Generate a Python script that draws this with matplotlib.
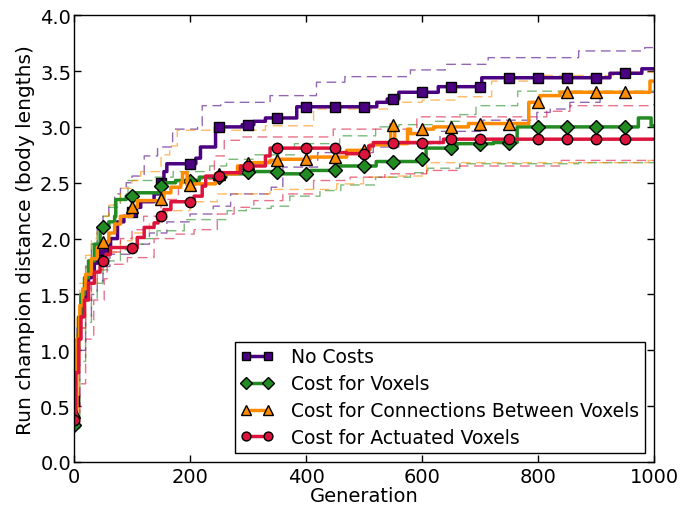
import matplotlib
matplotlib.use('Agg')
import matplotlib.pyplot as plt
import numpy as np

plt.rcParams['font.family'] = ['DejaVu Sans']
plt.rcParams['xtick.direction'] = 'in'
plt.rcParams['ytick.direction'] = 'in'

labels = ['No Costs', 'Cost for Voxels', 'Cost for Connections Between Voxels',
          'Cost for Actuated Voxels']
colors = ['#4B0082', '#228B22', '#FF8C00', '#DC143C']
markers = ['s', 'D', '^', 'o']

# mean champion distance, step breakpoints (generation, value)
no_cost_gen = [0, 3, 6, 10, 15, 20, 25, 30, 35, 40, 45, 55, 63, 75, 86, 100, 104, 115, 138, 149, 155,
               160, 210, 218, 244, 290, 310, 330, 384, 522, 540, 560, 628, 703, 924, 979]
no_cost_val = [0.55, 0.9, 1.1, 1.3, 1.45, 1.55, 1.65, 1.72, 1.78, 1.83, 1.90, 1.93, 2.0, 2.15, 2.2, 2.24, 2.28,
               2.33, 2.40, 2.50, 2.60, 2.67, 2.72, 2.82, 3.0, 3.02, 3.05, 3.08, 3.18, 3.22, 3.25, 3.31, 3.36,
               3.44, 3.48, 3.52]

voxel_gen = [0, 3, 8, 12, 18, 25, 35, 45, 60, 70, 72, 90, 103, 147, 155, 175, 216, 262, 300, 360, 407,
             453, 521, 592, 607, 660, 723, 764, 973, 995]
voxel_val = [0.33, 1.0, 1.3, 1.5, 1.65, 1.8, 1.95, 2.10, 2.15, 2.2, 2.35, 2.38, 2.41, 2.47, 2.50, 2.52,
             2.55, 2.58, 2.60, 2.58, 2.61, 2.65, 2.69, 2.71, 2.81, 2.85, 2.86, 3.0, 3.08, 3.01]

conn_gen = [0, 5, 10, 15, 20, 30, 40, 50, 60, 70, 80, 100, 109, 150, 155, 167, 184, 187, 195, 207, 244,
            282, 300, 338, 355, 407, 470, 501, 511, 546, 553, 575, 580, 598, 620, 680, 784, 803, 838, 993]
conn_val = [0.45, 1.1, 1.4, 1.55, 1.68, 1.82, 1.92, 1.97, 2.05, 2.13, 2.2, 2.28, 2.34, 2.35, 2.41, 2.46,
            2.5, 2.59, 2.48, 2.49, 2.58, 2.65, 2.68, 2.70, 2.71, 2.73, 2.79, 2.80, 2.84, 3.02, 2.85, 2.98,
            2.94, 2.98, 3.0, 3.03, 3.22, 3.28, 3.31, 3.41]

act_gen = [0, 3, 8, 12, 18, 25, 35, 45, 55, 63, 109, 121, 138, 145, 155, 167, 207, 221, 227, 253, 287,
           330, 338, 453, 470, 508, 516, 637]
act_val = [0.38, 0.8, 1.1, 1.3, 1.45, 1.6, 1.7, 1.80, 1.86, 1.92, 2.01, 2.10, 2.14, 2.20, 2.26, 2.33,
           2.38, 2.47, 2.56, 2.59, 2.65, 2.74, 2.81, 2.77, 2.76, 2.83, 2.86, 2.89]

# dashed bands (upper / lower)
no_cost_up_gen = [0, 5, 10, 20, 30, 40, 50, 60, 70, 80, 90, 100, 121, 144, 170, 213, 221, 253, 338, 418,
                  467, 580, 640, 714, 870, 984]
no_cost_up_val = [0.6, 1.2, 1.5, 1.75, 1.95, 2.1, 2.2, 2.3, 2.4, 2.45, 2.5, 2.56, 2.74, 2.82, 2.98, 3.01,
                  3.19, 3.22, 3.28, 3.40, 3.45, 3.51, 3.56, 3.62, 3.68, 3.71]
no_cost_lo_gen = [0, 10, 20, 30, 40, 50, 62, 102, 130, 160, 200, 240, 270, 340, 360, 420, 516, 560, 631,
                  705, 798, 821, 855, 907]
no_cost_lo_val = [0.5, 1.0, 1.3, 1.5, 1.62, 1.75, 1.86, 1.95, 2.05, 2.15, 2.22, 2.29, 2.40, 2.46, 2.64,
                  2.77, 2.82, 2.85, 2.96, 3.06, 3.13, 3.16, 3.22, 3.31]

voxel_up_gen = [0, 5, 10, 20, 30, 40, 50, 60, 80, 93, 140, 171, 234, 263, 310, 380, 458, 520, 560, 620,
                665, 693, 765]
voxel_up_val = [0.4, 1.2, 1.5, 1.75, 1.95, 2.1, 2.2, 2.28, 2.4, 2.52, 2.55, 2.6, 2.65, 2.71, 2.75, 2.85,
                2.92, 3.0, 3.02, 3.05, 3.11, 3.19, 3.32]
voxel_lo_gen = [0, 10, 20, 30, 40, 50, 60, 80, 100, 120, 143, 190, 264, 297, 340, 372, 424, 460, 520, 580,
                610, 665, 870]
voxel_lo_val = [0.3, 0.9, 1.25, 1.45, 1.6, 1.72, 1.8, 1.9, 1.95, 2.0, 2.07, 2.17, 2.25, 2.27, 2.29, 2.38,
                2.43, 2.48, 2.55, 2.59, 2.63, 2.67, 2.68]

conn_up_gen = [0, 5, 10, 20, 30, 40, 50, 60, 80, 100, 115, 150, 165, 178, 330, 413, 545, 600, 660, 720,
               797, 935]
conn_up_val = [0.55, 1.3, 1.6, 1.85, 2.0, 2.1, 2.2, 2.3, 2.45, 2.52, 2.6, 2.75, 2.83, 2.97, 3.01, 3.16,
               3.22, 3.24, 3.27, 3.41, 3.46, 3.49]
conn_lo_gen = [0, 5, 10, 20, 30, 40, 50, 60, 80, 100, 130, 160, 200, 247, 338, 453, 499, 556, 608, 990]
conn_lo_val = [0.4, 0.9, 1.2, 1.45, 1.6, 1.72, 1.8, 1.88, 1.98, 2.05, 2.15, 2.25, 2.33, 2.40, 2.44, 2.49,
               2.55, 2.56, 2.68, 2.70]

act_up_gen = [0, 5, 10, 20, 30, 40, 50, 60, 80, 100, 120, 150, 180, 210, 242, 259, 287, 447, 591, 815,
              855, 990]
act_up_val = [0.45, 0.9, 1.2, 1.45, 1.6, 1.72, 1.8, 1.88, 2.0, 2.08, 2.2, 2.35, 2.45, 2.53, 2.74, 2.88,
              2.91, 2.98, 3.09, 3.14, 3.19, 3.20]
act_lo_gen = [0, 10, 20, 34, 52, 57, 92, 138, 172, 207, 247, 276, 310, 360, 413, 476, 536, 608, 665, 840]
act_lo_val = [0.35, 0.7, 1.1, 1.45, 1.64, 1.77, 1.83, 2.0, 2.04, 2.08, 2.22, 2.28, 2.34, 2.40, 2.52, 2.55,
              2.58, 2.61, 2.65, 2.70]

means = [(no_cost_gen, no_cost_val), (voxel_gen, voxel_val), (conn_gen, conn_val), (act_gen, act_val)]
uppers = [(no_cost_up_gen, no_cost_up_val), (voxel_up_gen, voxel_up_val),
          (conn_up_gen, conn_up_val), (act_up_gen, act_up_val)]
lowers = [(no_cost_lo_gen, no_cost_lo_val), (voxel_lo_gen, voxel_lo_val),
          (conn_lo_gen, conn_lo_val), (act_lo_gen, act_lo_val)]

gens = np.arange(0, 1001)


def expand(g, v):
    idx = np.searchsorted(g, gens, side='right') - 1
    return np.asarray(v)[idx]


fig = plt.figure(figsize=(6.81, 5.06), dpi=100)
ax = fig.add_axes([0.1087, 0.085, 0.8517, 0.883])

for i in range(4):
    for g, v in (uppers[i], lowers[i]):
        ax.plot(gens, expand(g, v), color=colors[i], lw=1, ls='--', dashes=(7, 4), alpha=0.6,
                drawstyle='steps-post')

for i in range(4):
    g, v = means[i]
    ax.plot(gens, expand(g, v), color=colors[i], lw=2.5, drawstyle='steps-post',
            marker=markers[i], markersize=7.5 if markers[i] != '^' else 8, markevery=slice(0, 1000, 50),
            markerfacecolor=colors[i], markeredgecolor='black', markeredgewidth=1, label=labels[i])

ax.set_xlim(0, 1000)
ax.set_ylim(0, 4.0)
ax.set_xticks(np.arange(0, 1001, 200))
ax.set_yticks(np.arange(0, 4.01, 0.5))
ax.yaxis.set_major_formatter(matplotlib.ticker.FormatStrFormatter('%.1f'))
ax.tick_params(labelsize=14, top=True, right=True, length=5, width=1)
ax.tick_params(axis='y', pad=2)
for s in ax.spines.values():
    s.set_linewidth(1)
ax.set_xlabel('Generation', fontsize=14, labelpad=0)
ax.set_ylabel('Run champion distance (body lengths)', fontsize=14.5, labelpad=4)

leg = ax.legend(loc='lower right', fontsize=13.5, numpoints=2, fancybox=False, framealpha=1,
                edgecolor='black', borderaxespad=0.5, handlelength=1.8, labelspacing=0.42,
                handletextpad=0.9, borderpad=0.3, markerscale=0.85)
leg.get_frame().set_linewidth(1)

fig.savefig('out.png', dpi=100)
